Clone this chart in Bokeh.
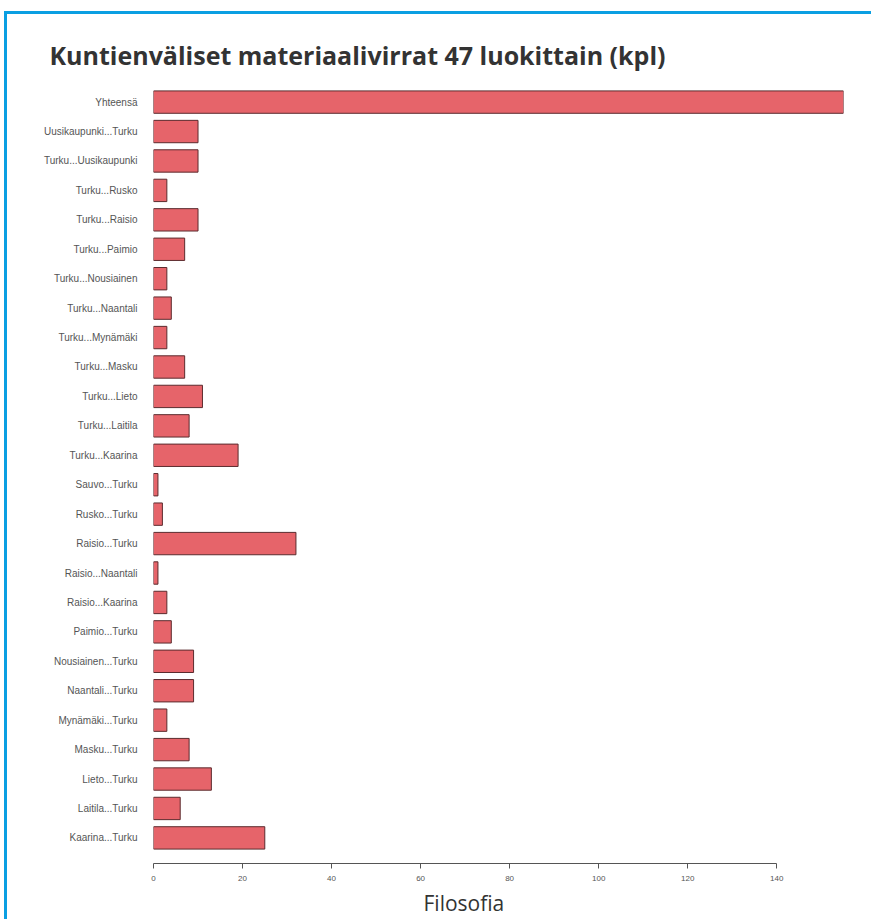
from bokeh.plotting import figure
from bokeh.models import Range1d, FactorRange, FixedTicker, Title
from bokeh.embed import file_html
from bokeh.resources import INLINE

# ---- data (top to bottom as shown) ----
categories = ["Yhteensä", "Uusikaupunki...Turku", "Turku...Uusikaupunki", "Turku...Rusko",
              "Turku...Raisio", "Turku...Paimio", "Turku...Nousiainen", "Turku...Naantali",
              "Turku...Mynämäki", "Turku...Masku", "Turku...Lieto", "Turku...Laitila",
              "Turku...Kaarina", "Sauvo...Turku", "Rusko...Turku", "Raisio...Turku",
              "Raisio...Naantali", "Raisio...Kaarina", "Paimio...Turku", "Nousiainen...Turku",
              "Naantali...Turku", "Mynämäki...Turku", "Masku...Turku", "Lieto...Turku",
              "Laitila...Turku", "Kaarina...Turku"]
values = [155, 10, 10, 3, 10, 7, 3, 4, 3, 7, 11, 8, 19, 1, 2, 32, 1, 3, 4, 9, 9, 3, 8, 13, 6, 25]
x_ticks = [0, 20, 40, 60, 80, 100, 120, 140]
title_text = "Kuntienväliset materiaalivirrat 47 luokittain (kpl)"
x_label = "Filosofia"

factors = categories[::-1]

p = figure(
    frame_width=690, frame_height=787,
    y_range=FactorRange(factors=factors, range_padding=0.37, range_padding_units="absolute"),
    x_range=Range1d(0, 155),
    output_backend="svg", toolbar_location=None,
    min_border_left=146, min_border_right=28, min_border_top=62, min_border_bottom=8,
    title=title_text,
)
p.styles = {"border-top": "3px solid #0a9fe2", "border-left": "3px solid #0a9fe2",
            "margin-top": "11px", "margin-left": "4px", "margin-bottom": "-30px"}

p.hbar(y=categories, right=values, left=0, height=0.76,
       fill_color="#E6646A", line_color="#5b2b2e", line_width=1)

p.outline_line_color = None
p.grid.grid_line_color = None
p.background_fill_color = "white"
p.border_fill_color = "white"

# title
p.title.text_font = "Open Sans"
p.title.text_font_size = "25px"
p.title.text_font_style = "bold"
p.title.text_color = "#333333"
p.title.align = "left"
p.title.offset = -104
p.title.standoff = 10

# x axis
xa = p.xaxis[0]
xa.ticker = FixedTicker(ticks=x_ticks)
xa.bounds = (0, 140)
xa.axis_line_color = "#555555"
xa.major_tick_line_color = "#555555"
xa.major_tick_out = 5
xa.major_tick_in = 0
xa.minor_tick_line_color = None
xa.major_label_text_font = "Liberation Sans"
xa.major_label_text_font_size = "8px"
xa.major_label_text_color = "#555555"
xa.major_label_standoff = 7

# x axis title, centred under the drawn axis extent
xt = Title(text=x_label, align="left", offset=270, standoff=6,
           text_font="Open Sans", text_font_size="21px", text_font_style="normal",
           text_color="#333333")
p.add_layout(xt, "below")

# y axis
ya = p.yaxis[0]
ya.axis_line_color = None
ya.major_tick_line_color = None
ya.minor_tick_line_color = None
ya.major_label_text_font = "Liberation Sans"
ya.major_label_text_font_size = "10px"
ya.major_label_text_color = "#555555"
ya.major_label_standoff = 10

open("out.html", "w").write(file_html(p, INLINE))
